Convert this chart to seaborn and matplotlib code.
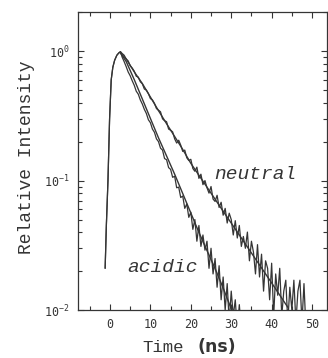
import numpy as np
import pandas as pd
import seaborn as sns
import matplotlib.pyplot as plt
from matplotlib.ticker import LogLocator, MultipleLocator, FixedLocator

# rising edge of the excitation (shared by both decays)
rise_t = [-1.2, -0.9, -0.5, -0.1, 0.3, 0.7, 1.15, 1.7, 2.2, 2.6]
rise_i = [0.021, 0.045, 0.10, 0.30, 0.60, 0.75, 0.85, 0.93, 0.97, 0.99]

# measured counts, channels every 0.5 ns from 3 ns
neutral_i = [0.96, 0.93, 0.87, 0.84, 0.77, 0.74, 0.70, 0.64, 0.63, 0.58,
             0.56, 0.51, 0.50, 0.47, 0.43, 0.42, 0.395, 0.36, 0.35, 0.34,
             0.30, 0.29, 0.285, 0.25, 0.245, 0.238, 0.21, 0.195, 0.205, 0.188,
             0.168, 0.172, 0.150, 0.143, 0.146, 0.124, 0.118, 0.127, 0.104, 0.112,
             0.093, 0.100, 0.088, 0.080, 0.090, 0.072, 0.069, 0.077, 0.062, 0.068,
             0.054, 0.061, 0.047, 0.056, 0.050, 0.038, 0.049, 0.036, 0.045, 0.031,
             0.037, 0.030, 0.040, 0.024, 0.034, 0.028, 0.019, 0.032, 0.018, 0.027,
             0.014, 0.024, 0.021, 0.012, 0.023, 0.009, 0.019, 0.013, 0.021, 0.009,
             0.014, 0.017, 0.008, 0.015, 0.010, 0.017, 0.008, 0.014, 0.017, 0.008,
             0.016, 0.007]
acidic_i = [0.90, 0.83, 0.76, 0.69, 0.645, 0.59, 0.545, 0.49, 0.465, 0.42,
            0.39, 0.355, 0.33, 0.295, 0.28, 0.25, 0.236, 0.21, 0.20, 0.178,
            0.172, 0.148, 0.145, 0.126, 0.122, 0.106, 0.108, 0.088, 0.089, 0.074,
            0.076, 0.061, 0.066, 0.052, 0.057, 0.042, 0.050, 0.034, 0.045, 0.031,
            0.038, 0.029, 0.034, 0.021, 0.030, 0.019, 0.025, 0.015, 0.022, 0.012,
            0.018, 0.010, 0.016, 0.008, 0.014, 0.009, 0.012, 0.007, 0.011, 0.007]

# fitted decays
fit_n_t = [2.5, 4, 6, 8, 10, 12, 14, 16, 18, 20, 24, 28, 32, 36, 40, 44]
fit_n_i = [0.977, 0.871, 0.692, 0.562, 0.442, 0.347, 0.275, 0.219, 0.174,
           0.136, 0.089, 0.058, 0.038, 0.0248, 0.0162, 0.0105]
fit_a_t = [2.5, 4, 6, 8, 10, 12, 14, 16, 18, 20, 22, 24, 26, 28, 30]
fit_a_i = [0.977, 0.832, 0.603, 0.427, 0.302, 0.214, 0.155, 0.112, 0.0794,
           0.0562, 0.0398, 0.0288, 0.0209, 0.0148, 0.0102]

sns.set_style("ticks")
plt.rcParams['font.family'] = ['DejaVu Sans Mono']
plt.rcParams['mathtext.default'] = 'regular'

ink = "#353535"
thin = ["Liberation Mono", "DejaVu Sans Mono"]

neutral = pd.DataFrame({
    "t": rise_t + list(3.0 + 0.5 * np.arange(len(neutral_i))),
    "i": rise_i + neutral_i})
acidic = pd.DataFrame({
    "t": rise_t + list(3.0 + 0.5 * np.arange(len(acidic_i))),
    "i": rise_i + acidic_i})

fig = plt.figure(figsize=(3.28, 3.58), dpi=100)
ax = fig.add_axes([0.238, 0.134, 0.759, 0.832])

for d in (neutral, acidic):
    sns.lineplot(data=d, x="t", y="i", ax=ax, color=ink, lw=0.9, sort=False)
sns.lineplot(x=fit_n_t, y=fit_n_i, ax=ax, color=ink, lw=1.0)
sns.lineplot(x=fit_a_t, y=fit_a_i, ax=ax, color=ink, lw=1.0)

ax.set_yscale("log")
ax.set_xlim(-7.9, 53.7)
ax.set_ylim(0.01, 2.0)
ax.xaxis.set_major_locator(FixedLocator([0, 10, 20, 30, 40, 50]))
ax.xaxis.set_minor_locator(MultipleLocator(5))
ax.yaxis.set_major_locator(FixedLocator([0.01, 0.1, 1.0]))
ax.yaxis.set_minor_locator(LogLocator(base=10, subs=np.arange(2, 10)))
ax.yaxis.set_minor_formatter(plt.NullFormatter())
ax.tick_params(which="both", direction="in", top=True, right=True,
               color=ink, width=0.8, labelsize=8.5, labelcolor=ink)
ax.tick_params(which="major", length=4, pad=6)
ax.tick_params(which="minor", length=3)
for s in ax.spines.values():
    s.set_color(ink)
    s.set_linewidth(0.9)
ax.set_xlabel("")
ax.set_ylabel("")

ax.text(0.545, 0.455, "neutral", transform=ax.transAxes, fontsize=14,
        style="italic", color=ink, va="center", family=thin)
ax.text(0.197, 0.144, "acidic", transform=ax.transAxes, fontsize=14,
        style="italic", color=ink, va="center", family=thin)

fig.text(0.08, 0.56, "Relative Intensity", rotation=90, fontsize=13,
         color=ink, ha="center", va="center", family=thin)
fig.text(0.433, 0.03, "Time", fontsize=12.5, color=ink, va="center",
         family=thin)
fig.text(0.603, 0.03, "(ns)", fontsize=12.5, color=ink, va="center",
         family="DejaVu Sans", fontweight="bold")

fig.savefig("out.png", dpi=100, facecolor="white")
